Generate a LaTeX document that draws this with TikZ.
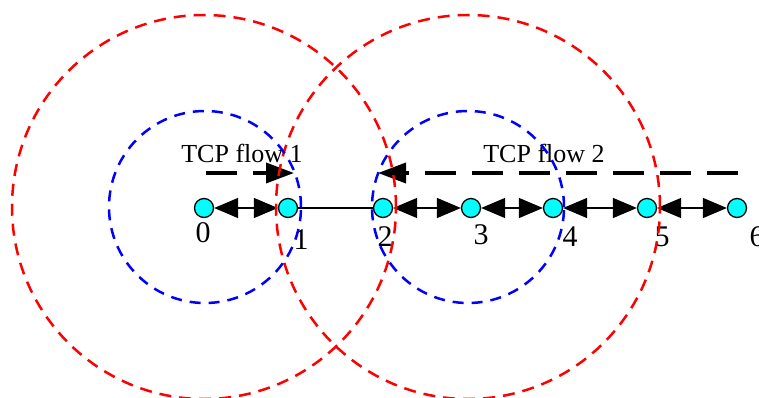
\documentclass[tikz,border=0pt]{standalone}
\usepackage{fontspec}
\setmainfont{Liberation Serif}
\usetikzlibrary{arrows.meta}
\definecolor{nodecyan}{RGB}{0,255,255}
\tikzset{
  station/.style={circle, draw=black, line width=1.3pt, fill=nodecyan,
    minimum size=19pt, inner sep=0pt},
  idlabel/.style={font=\fontsize{30}{36}\selectfont, inner sep=0pt},
  flowlabel/.style={font=\fontsize{26}{30}\selectfont, inner sep=0pt, anchor=base},
  hop/.style={line width=1.5pt,
    {Triangle[length=24pt,width=20pt]}-{Triangle[length=24pt,width=20pt]}},
  plainhop/.style={line width=1.5pt},
  flow/.style={line width=3.6pt, dash pattern=on 31pt off 16pt,
    -{Triangle[length=28pt,width=20pt]}},
  txrange/.style={red, line width=2.5pt, dash pattern=on 12pt off 8pt},
  rxrange/.style={blue, line width=2.5pt, dash pattern=on 11pt off 8pt}
}
\begin{document}
\begin{tikzpicture}[x=1pt,y=-1pt]
  \useasboundingbox (0,0) rectangle (759,398);

  % stations along the chain
  \node[station] (n0) at (204,208) {};
  \node[station] (n1) at (288,208) {};
  \node[station] (n2) at (383,208) {};
  \node[station] (n3) at (471,208) {};
  \node[station] (n4) at (553,208) {};
  \node[station] (n5) at (647,208) {};
  \node[station] (n6) at (737,208) {};

  % station numbers
  \node[idlabel] (l0) at (203,233) {0};
  \node[idlabel] (l1) at (301,240) {1};
  \node[idlabel] (l2) at (385,237) {2};
  \node[idlabel] (l3) at (481,235) {3};
  \node[idlabel] (l4) at (570,237) {4};
  \node[idlabel] (l5) at (662,237) {5};
  \node[idlabel] (l6) at (757,237) {6};

  % links between neighbours
  \draw[hop] (n0) -- (n1);
  \draw[plainhop] (n1) -- (n2);
  \draw[hop] (n2) -- (n3);
  \draw[hop] (n3) -- (n4);
  \draw[hop] (n4) -- (n5);
  \draw[hop] (n5) -- (n6);

  % TCP flows
  \coordinate (f1s) at (206,173);
  \coordinate (f1e) at (294,173);
  \coordinate (f2s) at (738,173);
  \coordinate (f2e) at (378,173);
  \draw[flow] (f1s) -- (f1e);
  \draw[flow] (f2s) -- (f2e);
  \node[flowlabel] (t1) at (242,163) {TCP flow 1};
  \node[flowlabel] (t2) at (544,163) {TCP flow 2};

  % interference and transmission ranges
  \draw[txrange] (n0.center) ++(0,-1) circle[radius=192pt];
  \draw[txrange] (n3.center) ++(-3,-1) circle[radius=192pt];
  \draw[rxrange] (n0.center) ++(1,-1) circle[radius=96pt];
  \draw[rxrange] (n3.center) ++(-3,-1) circle[radius=96pt];
\end{tikzpicture}
\end{document}
